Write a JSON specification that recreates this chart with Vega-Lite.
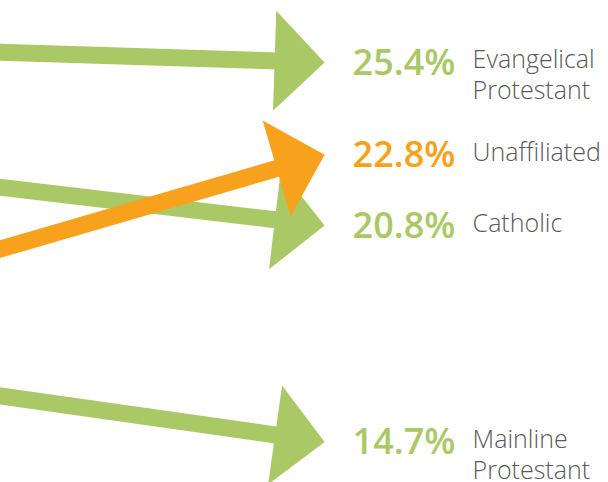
{
  "$schema": "https://vega.github.io/schema/vega-lite/v6.json",
  "width": 608,
  "height": 482,
  "autosize": "none",
  "padding": 0,
  "background": "white",
  "config": {"view": {"stroke": null}},
  "data": {
    "values": [
      {"religion": "Evangelical Protestant", "year": 2007, "pct": 26.2},
      {"religion": "Evangelical Protestant", "year": 2014, "pct": 25.4, "value": "25.4%", "label": "Evangelical\nProtestant"},
      {"religion": "Catholic", "year": 2007, "pct": 23.8},
      {"religion": "Catholic", "year": 2014, "pct": 20.8, "value": "20.8%", "label": "Catholic"},
      {"religion": "Mainline Protestant", "year": 2007, "pct": 18.3},
      {"religion": "Mainline Protestant", "year": 2014, "pct": 14.7, "value": "14.7%", "label": "Mainline\nProtestant"},
      {"religion": "Unaffiliated", "year": 2007, "pct": 15.4},
      {"religion": "Unaffiliated", "year": 2014, "pct": 22.8, "value": "22.8%", "label": "Unaffiliated"}
    ]
  },
  "encoding": {
    "x": {"field": "year", "type": "quantitative", "scale": {"domain": [2011.48, 2016.2], "nice": false, "zero": false}, "axis": null},
    "y": {"field": "pct", "type": "quantitative", "scale": {"domain": [13.57, 27.16], "nice": false, "zero": false}, "axis": null},
    "color": {
      "field": "religion", "type": "nominal", "legend": null,
      "scale": {
        "domain": ["Evangelical Protestant", "Catholic", "Mainline Protestant", "Unaffiliated"],
        "range": ["#abc866", "#abc866", "#abc866", "#f8a11c"]
      }
    }
  },
  "layer": [
    {
      "transform": [{"filter": "datum.religion !== 'Unaffiliated'"}],
      "mark": {"type": "line", "strokeWidth": 17, "strokeCap": "butt", "strokeDash": [0, 45, 5000], "clip": true},
      "encoding": {"order": {"field": "year", "sort": "descending"}}
    },
    {
      "transform": [{"filter": "datum.religion === 'Evangelical Protestant' && datum.year === 2014"}],
      "mark": {"type": "point", "shape": "M0,0L-1,-1L-1,1Z", "size": 10000, "filled": true, "opacity": 1, "strokeWidth": 0, "angle": 1.85}
    },
    {
      "transform": [{"filter": "datum.religion === 'Catholic' && datum.year === 2014"}],
      "mark": {"type": "point", "shape": "M0,0L-1,-1L-1,1Z", "size": 10000, "filled": true, "opacity": 1, "strokeWidth": 0, "angle": 6.8}
    },
    {
      "transform": [{"filter": "datum.religion === 'Mainline Protestant' && datum.year === 2014"}],
      "mark": {"type": "point", "shape": "M0,0L-1,-1L-1,1Z", "size": 10000, "filled": true, "opacity": 1, "strokeWidth": 0, "angle": 8.05}
    },
    {
      "transform": [{"filter": "datum.religion === 'Unaffiliated'"}],
      "mark": {"type": "line", "strokeWidth": 17, "strokeCap": "butt", "strokeDash": [0, 45, 5000], "clip": true},
      "encoding": {"order": {"field": "year", "sort": "descending"}}
    },
    {
      "transform": [{"filter": "datum.religion === 'Unaffiliated' && datum.year === 2014"}],
      "mark": {"type": "point", "shape": "M0,0L-1,-1L-1,1Z", "size": 10000, "filled": true, "opacity": 1, "strokeWidth": 0, "angle": -16.2}
    },
    {
      "transform": [{"filter": "datum.year === 2014"}],
      "mark": {"type": "text", "align": "left", "baseline": "alphabetic", "dx": 28, "dy": 12.5, "font": "Open Sans", "fontWeight": 600, "fontSize": 36},
      "encoding": {"text": {"field": "value", "type": "nominal"}}
    },
    {
      "transform": [{"filter": "datum.year === 2014"}],
      "mark": {"type": "text", "align": "left", "baseline": "alphabetic", "dx": 148, "dy": 6, "font": "Open Sans", "fontWeight": 300, "fontSize": 25, "lineHeight": 31, "lineBreak": "\n"},
      "encoding": {"text": {"field": "label", "type": "nominal"}, "color": {"value": "#58585a"}}
    }
  ]
}
